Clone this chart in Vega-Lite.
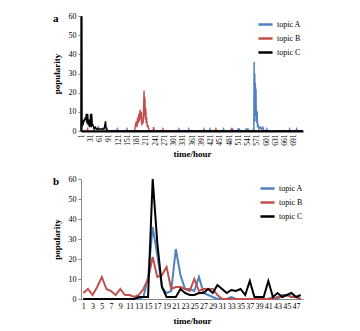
{
  "$schema": "https://vega.github.io/schema/vega-lite/v6.json",
  "background": "white",
  "padding": {"left": 52, "top": 12, "right": 5, "bottom": 5},
  "spacing": 16,
  "config": {
    "font": "Liberation Serif",
    "view": {"stroke": null},
    "axis": {"grid": false, "labelFont": "Liberation Serif", "titleFont": "Liberation Serif", "labelColor": "#000", "titleColor": "#000", "domainColor": "#888", "tickColor": "#888", "titleFontWeight": "bold"},
    "legend": {"labelFont": "Liberation Serif", "labelFontSize": 8, "labelColor": "#000", "symbolType": "stroke", "symbolSize": 200, "symbolStrokeWidth": 2.5, "rowPadding": 0, "labelOffset": 3, "title": null}
  },
  "datasets": {
    "a": [
      {"hour": 1, "topic": "topic A", "value": 0},
      {"hour": 50, "topic": "topic A", "value": 0},
      {"hour": 52, "topic": "topic A", "value": 1},
      {"hour": 56, "topic": "topic A", "value": 2},
      {"hour": 58, "topic": "topic A", "value": 0},
      {"hour": 68, "topic": "topic A", "value": 0},
      {"hour": 70, "topic": "topic A", "value": 1},
      {"hour": 73, "topic": "topic A", "value": 0},
      {"hour": 84, "topic": "topic A", "value": 0},
      {"hour": 86, "topic": "topic A", "value": 1},
      {"hour": 88, "topic": "topic A", "value": 0},
      {"hour": 116, "topic": "topic A", "value": 0},
      {"hour": 118, "topic": "topic A", "value": 1},
      {"hour": 120, "topic": "topic A", "value": 0},
      {"hour": 148, "topic": "topic A", "value": 0},
      {"hour": 150, "topic": "topic A", "value": 1},
      {"hour": 152, "topic": "topic A", "value": 0},
      {"hour": 316, "topic": "topic A", "value": 0},
      {"hour": 318, "topic": "topic A", "value": 1},
      {"hour": 320, "topic": "topic A", "value": 0},
      {"hour": 348, "topic": "topic A", "value": 0},
      {"hour": 350, "topic": "topic A", "value": 1},
      {"hour": 352, "topic": "topic A", "value": 0},
      {"hour": 397, "topic": "topic A", "value": 0},
      {"hour": 399, "topic": "topic A", "value": 1},
      {"hour": 401, "topic": "topic A", "value": 0},
      {"hour": 417, "topic": "topic A", "value": 0},
      {"hour": 419, "topic": "topic A", "value": 1},
      {"hour": 421, "topic": "topic A", "value": 0},
      {"hour": 461, "topic": "topic A", "value": 0},
      {"hour": 463, "topic": "topic A", "value": 1},
      {"hour": 465, "topic": "topic A", "value": 0},
      {"hour": 486, "topic": "topic A", "value": 0},
      {"hour": 488, "topic": "topic A", "value": 1},
      {"hour": 492, "topic": "topic A", "value": 1},
      {"hour": 494, "topic": "topic A", "value": 0},
      {"hour": 508, "topic": "topic A", "value": 0},
      {"hour": 510, "topic": "topic A", "value": 1},
      {"hour": 514, "topic": "topic A", "value": 1},
      {"hour": 516, "topic": "topic A", "value": 0},
      {"hour": 534, "topic": "topic A", "value": 0},
      {"hour": 536, "topic": "topic A", "value": 1},
      {"hour": 542, "topic": "topic A", "value": 1},
      {"hour": 544, "topic": "topic A", "value": 0},
      {"hour": 558, "topic": "topic A", "value": 0},
      {"hour": 560, "topic": "topic A", "value": 1},
      {"hour": 561, "topic": "topic A", "value": 0},
      {"hour": 562, "topic": "topic A", "value": 36},
      {"hour": 563, "topic": "topic A", "value": 5},
      {"hour": 564, "topic": "topic A", "value": 30},
      {"hour": 565, "topic": "topic A", "value": 8},
      {"hour": 566, "topic": "topic A", "value": 25},
      {"hour": 567, "topic": "topic A", "value": 10},
      {"hour": 568, "topic": "topic A", "value": 22},
      {"hour": 569, "topic": "topic A", "value": 5},
      {"hour": 570, "topic": "topic A", "value": 11},
      {"hour": 571, "topic": "topic A", "value": 4},
      {"hour": 572, "topic": "topic A", "value": 10},
      {"hour": 573, "topic": "topic A", "value": 2},
      {"hour": 575, "topic": "topic A", "value": 3},
      {"hour": 578, "topic": "topic A", "value": 1},
      {"hour": 582, "topic": "topic A", "value": 2},
      {"hour": 586, "topic": "topic A", "value": 1},
      {"hour": 590, "topic": "topic A", "value": 2},
      {"hour": 594, "topic": "topic A", "value": 0},
      {"hour": 601, "topic": "topic A", "value": 0},
      {"hour": 603, "topic": "topic A", "value": 1},
      {"hour": 605, "topic": "topic A", "value": 0},
      {"hour": 675, "topic": "topic A", "value": 0},
      {"hour": 677, "topic": "topic A", "value": 1},
      {"hour": 679, "topic": "topic A", "value": 0},
      {"hour": 698, "topic": "topic A", "value": 0},
      {"hour": 700, "topic": "topic A", "value": 1},
      {"hour": 702, "topic": "topic A", "value": 0},
      {"hour": 720, "topic": "topic A", "value": 0},
      {"hour": 1, "topic": "topic B", "value": 0},
      {"hour": 20, "topic": "topic B", "value": 0},
      {"hour": 22, "topic": "topic B", "value": 1},
      {"hour": 24, "topic": "topic B", "value": 0},
      {"hour": 174, "topic": "topic B", "value": 0},
      {"hour": 177, "topic": "topic B", "value": 3},
      {"hour": 180, "topic": "topic B", "value": 5},
      {"hour": 182, "topic": "topic B", "value": 2},
      {"hour": 184, "topic": "topic B", "value": 7},
      {"hour": 186, "topic": "topic B", "value": 4},
      {"hour": 188, "topic": "topic B", "value": 9},
      {"hour": 190, "topic": "topic B", "value": 5},
      {"hour": 192, "topic": "topic B", "value": 11},
      {"hour": 194, "topic": "topic B", "value": 6},
      {"hour": 196, "topic": "topic B", "value": 10},
      {"hour": 198, "topic": "topic B", "value": 3},
      {"hour": 200, "topic": "topic B", "value": 6},
      {"hour": 202, "topic": "topic B", "value": 4},
      {"hour": 204, "topic": "topic B", "value": 14},
      {"hour": 205, "topic": "topic B", "value": 21},
      {"hour": 206, "topic": "topic B", "value": 8},
      {"hour": 207, "topic": "topic B", "value": 18},
      {"hour": 208, "topic": "topic B", "value": 16},
      {"hour": 209, "topic": "topic B", "value": 6},
      {"hour": 210, "topic": "topic B", "value": 12},
      {"hour": 211, "topic": "topic B", "value": 10},
      {"hour": 212, "topic": "topic B", "value": 4},
      {"hour": 213, "topic": "topic B", "value": 7},
      {"hour": 214, "topic": "topic B", "value": 5},
      {"hour": 216, "topic": "topic B", "value": 2},
      {"hour": 218, "topic": "topic B", "value": 3},
      {"hour": 220, "topic": "topic B", "value": 1},
      {"hour": 222, "topic": "topic B", "value": 0},
      {"hour": 234, "topic": "topic B", "value": 0},
      {"hour": 236, "topic": "topic B", "value": 2},
      {"hour": 238, "topic": "topic B", "value": 0},
      {"hour": 264, "topic": "topic B", "value": 0},
      {"hour": 266, "topic": "topic B", "value": 1},
      {"hour": 268, "topic": "topic B", "value": 0},
      {"hour": 436, "topic": "topic B", "value": 0},
      {"hour": 438, "topic": "topic B", "value": 1},
      {"hour": 440, "topic": "topic B", "value": 0},
      {"hour": 488, "topic": "topic B", "value": 0},
      {"hour": 490, "topic": "topic B", "value": 1},
      {"hour": 492, "topic": "topic B", "value": 0},
      {"hour": 720, "topic": "topic B", "value": 0},
      {"hour": 1, "topic": "topic C", "value": 0},
      {"hour": 2, "topic": "topic C", "value": 60},
      {"hour": 3, "topic": "topic C", "value": 2},
      {"hour": 5, "topic": "topic C", "value": 5},
      {"hour": 8, "topic": "topic C", "value": 4},
      {"hour": 10, "topic": "topic C", "value": 6},
      {"hour": 12, "topic": "topic C", "value": 5},
      {"hour": 14, "topic": "topic C", "value": 7},
      {"hour": 16, "topic": "topic C", "value": 6},
      {"hour": 18, "topic": "topic C", "value": 9},
      {"hour": 20, "topic": "topic C", "value": 4},
      {"hour": 22, "topic": "topic C", "value": 9},
      {"hour": 24, "topic": "topic C", "value": 3},
      {"hour": 26, "topic": "topic C", "value": 6},
      {"hour": 28, "topic": "topic C", "value": 2},
      {"hour": 30, "topic": "topic C", "value": 4},
      {"hour": 32, "topic": "topic C", "value": 9},
      {"hour": 34, "topic": "topic C", "value": 2},
      {"hour": 35, "topic": "topic C", "value": 9},
      {"hour": 37, "topic": "topic C", "value": 3},
      {"hour": 40, "topic": "topic C", "value": 3},
      {"hour": 43, "topic": "topic C", "value": 1},
      {"hour": 47, "topic": "topic C", "value": 2},
      {"hour": 50, "topic": "topic C", "value": 1},
      {"hour": 60, "topic": "topic C", "value": 1},
      {"hour": 70, "topic": "topic C", "value": 1},
      {"hour": 75, "topic": "topic C", "value": 1},
      {"hour": 78, "topic": "topic C", "value": 3},
      {"hour": 80, "topic": "topic C", "value": 5},
      {"hour": 82, "topic": "topic C", "value": 1},
      {"hour": 86, "topic": "topic C", "value": 0},
      {"hour": 720, "topic": "topic C", "value": 0}
    ],
    "b": [
      {"hour": 1, "A": 0, "B": 3, "C": 0},
      {"hour": 2, "A": 0, "B": 5, "C": 0},
      {"hour": 3, "A": 0, "B": 2, "C": 0},
      {"hour": 4, "A": 0, "B": 6, "C": 0},
      {"hour": 5, "A": 0, "B": 11, "C": 0},
      {"hour": 6, "A": 0, "B": 5, "C": 0},
      {"hour": 7, "A": 0, "B": 4, "C": 0},
      {"hour": 8, "A": 0, "B": 2, "C": 0},
      {"hour": 9, "A": 0, "B": 5, "C": 0},
      {"hour": 10, "A": 0, "B": 2, "C": 0},
      {"hour": 11, "A": 0, "B": 2, "C": 0},
      {"hour": 12, "A": 0, "B": 1, "C": 0},
      {"hour": 13, "A": 0, "B": 2, "C": 1},
      {"hour": 14, "A": 1, "B": 5, "C": 1},
      {"hour": 15, "A": 11, "B": 10, "C": 1},
      {"hour": 16, "A": 36, "B": 21, "C": 60},
      {"hour": 17, "A": 22, "B": 11, "C": 28},
      {"hour": 18, "A": 6, "B": 12, "C": 6},
      {"hour": 19, "A": 3, "B": 16, "C": 1},
      {"hour": 20, "A": 4, "B": 5, "C": 1},
      {"hour": 21, "A": 25, "B": 6, "C": 1},
      {"hour": 22, "A": 12, "B": 6, "C": 5},
      {"hour": 23, "A": 5, "B": 5, "C": 3},
      {"hour": 24, "A": 5, "B": 4, "C": 2},
      {"hour": 25, "A": 4, "B": 10, "C": 2},
      {"hour": 26, "A": 11, "B": 4, "C": 3},
      {"hour": 27, "A": 3, "B": 5, "C": 3},
      {"hour": 28, "A": 2, "B": 5, "C": 5},
      {"hour": 29, "A": 1, "B": 5, "C": 3},
      {"hour": 30, "A": 0, "B": 2, "C": 7},
      {"hour": 31, "A": 0, "B": 0, "C": 5},
      {"hour": 32, "A": 0, "B": 0, "C": 3},
      {"hour": 33, "A": 1, "B": 0, "C": 4.5},
      {"hour": 34, "A": 0, "B": 0, "C": 4},
      {"hour": 35, "A": 0, "B": 0, "C": 5},
      {"hour": 36, "A": 0, "B": 0, "C": 2},
      {"hour": 37, "A": 0, "B": 0, "C": 9},
      {"hour": 38, "A": 0, "B": 0, "C": 1},
      {"hour": 39, "A": 0, "B": 0, "C": 1},
      {"hour": 40, "A": 0, "B": 0, "C": 1},
      {"hour": 41, "A": 0, "B": 0, "C": 9},
      {"hour": 42, "A": 1, "B": 0, "C": 1},
      {"hour": 43, "A": 0, "B": 1, "C": 3},
      {"hour": 44, "A": 2, "B": 1, "C": 1},
      {"hour": 45, "A": 2, "B": 2, "C": 2},
      {"hour": 46, "A": 1, "B": 1, "C": 3},
      {"hour": 47, "A": 1, "B": 1, "C": 1},
      {"hour": 48, "A": 0, "B": 0, "C": 2}
    ]
  },
  "vconcat": [
    {
      "width": 222,
      "height": 115,
      "title": {"text": "a", "anchor": "start", "frame": "group", "fontSize": 11, "fontWeight": "bold", "font": "Liberation Serif", "dx": -28, "dy": 12, "offset": 0},
      "data": {"name": "a"},
      "mark": {"type": "line", "strokeWidth": 1.5, "interpolate": "linear"},
      "encoding": {
        "x": {"field": "hour", "type": "quantitative", "scale": {"domain": [0.5, 720.5], "nice": false, "zero": false},
          "axis": {"title": "time/hour", "titleFontSize": 9, "titlePadding": 4, "values": [1,31,61,91,121,151,181,211,241,271,301,331,361,391,421,451,481,511,541,571,601,631,661,691], "labelAngle": -90, "labelFontSize": 7.5, "labelPadding": 3, "ticks": false, "labelFlush": false, "labelOverlap": false, "domainColor": "#000", "domainWidth": 2, "zindex": 1}},
        "y": {"field": "value", "type": "quantitative", "scale": {"domain": [0, 60], "nice": false},
          "axis": {"title": "popularity", "titleFontSize": 9, "titlePadding": 7, "values": [0,10,20,30,40,50,60], "labelFontSize": 8, "tickSize": 3, "labelPadding": 2, "domainColor": "#000", "domainWidth": 2, "zindex": 1}},
        "color": {"field": "topic", "type": "nominal", "scale": {"domain": ["topic A", "topic B", "topic C"], "range": ["#4F81BD", "#C0504D", "#000000"]},
          "legend": {"orient": "none", "legendX": 176, "legendY": 0}}
      }
    },
    {
      "width": 222,
      "height": 120,
      "title": {"text": "b", "anchor": "start", "frame": "group", "fontSize": 11, "fontWeight": "bold", "font": "Liberation Serif", "dx": -28, "dy": 12, "offset": 0},
      "data": {"name": "b"},
      "transform": [{"fold": ["A", "B", "C"], "as": ["k", "value"]}, {"calculate": "'topic ' + datum.k", "as": "topic"}],
      "mark": {"type": "line", "strokeWidth": 2},
      "encoding": {
        "x": {"field": "hour", "type": "quantitative", "scale": {"domain": [0.5, 48.5], "nice": false, "zero": false},
          "axis": {"title": "time/hour", "titleFontSize": 9, "titlePadding": 6, "values": [1,3,5,7,9,11,13,15,17,19,21,23,25,27,29,31,33,35,37,39,41,43,45,47], "labelAngle": 0, "labelFontSize": 8, "labelPadding": 3, "ticks": false, "labelFlush": false, "labelOverlap": false}},
        "y": {"field": "value", "type": "quantitative", "scale": {"domain": [0, 60], "nice": false},
          "axis": {"title": "popularity", "titleFontSize": 9, "titlePadding": 7, "values": [0,10,20,30,40,50,60], "labelFontSize": 8, "tickSize": 3, "labelPadding": 2}},
        "color": {"field": "topic", "type": "nominal", "scale": {"domain": ["topic A", "topic B", "topic C"], "range": ["#4F81BD", "#C0504D", "#000000"]},
          "legend": {"orient": "none", "legendX": 178, "legendY": 1}}
      }
    }
  ],
  "resolve": {"legend": {"color": "independent"}}
}
